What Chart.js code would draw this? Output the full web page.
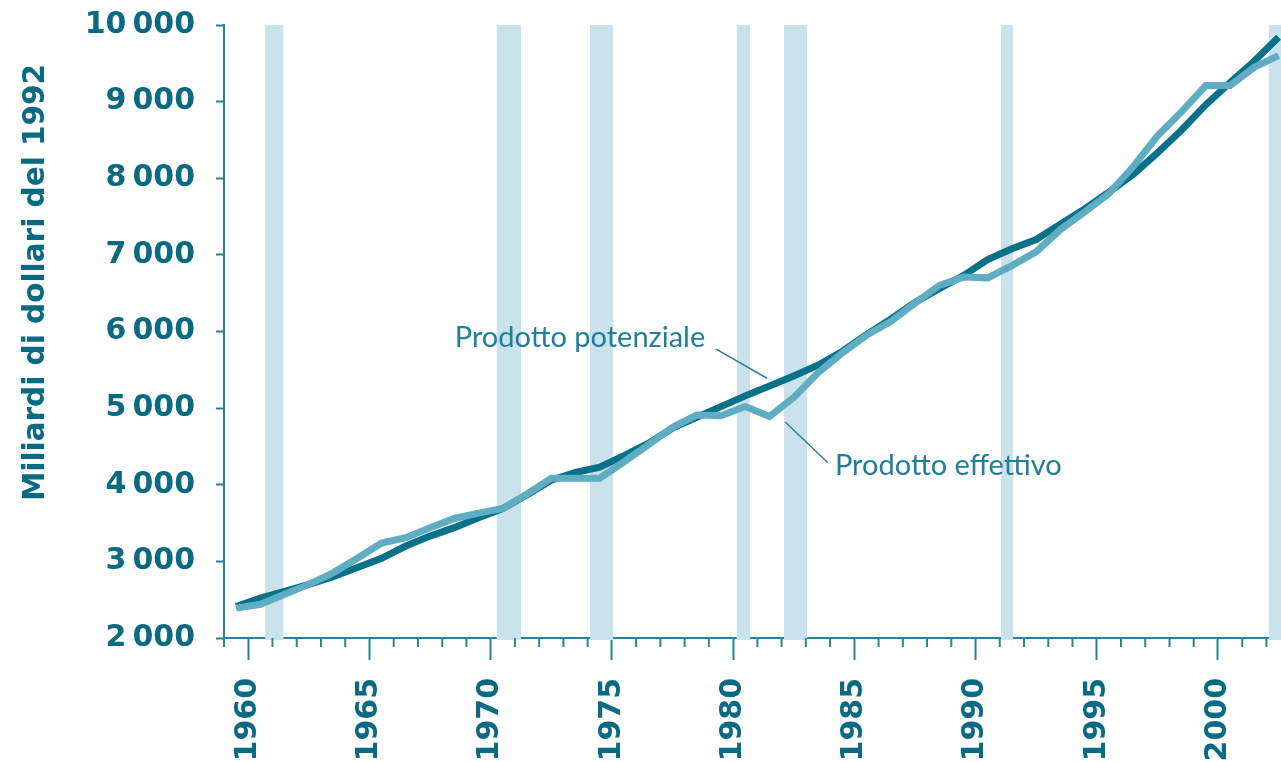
<!DOCTYPE html>
<html>
<head>
<meta charset="utf-8">
<script src="https://cdn.jsdelivr.net/npm/chart.js@4.4.1/dist/chart.umd.min.js"></script>
<style>
html, body { margin: 0; padding: 0; background: #fff; }
#wrap { width: 1281px; height: 762px; }
</style>
</head>
<body>
<div id="wrap"><canvas id="gdpChart"></canvas></div>
<script>
// anni (metà anno) e valori, miliardi di dollari del 1992
var years = [1959.5, 1960.5, 1961.5, 1962.5, 1963.5, 1964.5, 1965.5, 1966.5, 1967.5, 1968.5,
	1969.5, 1970.5, 1971.5, 1972.5, 1973.5, 1974.5, 1975.5, 1976.5, 1977.5, 1978.5,
	1979.5, 1980.5, 1981.5, 1982.5, 1983.5, 1984.5, 1985.5, 1986.5, 1987.5, 1988.5,
	1989.5, 1990.5, 1991.5, 1992.5, 1993.5, 1994.5, 1995.5, 1996.5, 1997.5, 1998.5,
	1999.5, 2000.5, 2001.5, 2002.5];

var potenziale = [2410, 2520, 2610, 2700, 2800, 2920, 3040, 3200, 3330, 3440,
	3570, 3690, 3870, 4060, 4160, 4230, 4380, 4540, 4740, 4880,
	5020, 5160, 5290, 5420, 5560, 5740, 5960, 6160, 6380, 6560,
	6730, 6940, 7080, 7200, 7400, 7600, 7820, 8050, 8330, 8630,
	8960, 9250, 9530, 9840];

var effettivo = [2390, 2440, 2570, 2700, 2850, 3040, 3240, 3310, 3440, 3560,
	3630, 3690, 3880, 4085, 4085, 4085, 4300, 4520, 4750, 4910,
	4900, 5020, 4890, 5140, 5460, 5720, 5950, 6130, 6370, 6600,
	6710, 6700, 6860, 7040, 7330, 7560, 7800, 8150, 8550, 8870,
	9210, 9210, 9450, 9600];

// recessioni (bande verticali)
var recessioni = [[1960.7, 1961.45], [1970.25, 1971.25], [1974.1, 1975.05], [1980.15, 1980.7],
	[1982.1, 1983.05], [1991.05, 1991.55], [2002.1, 2003]];

var yTicks = [2000, 3000, 4000, 5000, 6000, 7000, 8000, 9000, 10000];
var xTickYears = [1960, 1965, 1970, 1975, 1980, 1985, 1990, 1995, 2000];

var darkTeal = '#08718a';
var lightTeal = '#5eadc3';
var bandColor = '#c9e2ec';
var axisColor = '#2a8199';
var textColor = '#0b6a83';

function toPoints(vals) {
	return years.map(function(yr, i) { return { x: yr, y: vals[i] }; });
}

function fmt(v) {
	return String(v).replace(/\B(?=(\d{3})+(?!\d))/g, '\u2009');
}

var bandsPlugin = {
	id: 'bands',
	beforeDatasetsDraw: function(chart) {
		var ctx = chart.ctx, area = chart.chartArea, x = chart.scales.x;
		ctx.save();
		ctx.fillStyle = bandColor;
		recessioni.forEach(function(r) {
			var x1 = Math.max(x.getPixelForValue(r[0]), area.left);
			var x2 = Math.min(x.getPixelForValue(r[1]), area.right);
			ctx.fillRect(x1, area.top, x2 - x1, area.bottom - area.top + 2);
		});
		ctx.restore();
	}
};

var extrasPlugin = {
	id: 'extras',
	afterDraw: function(chart) {
		var ctx = chart.ctx, area = chart.chartArea, x = chart.scales.x, y = chart.scales.y;
		ctx.save();
		// tacche minori, una per anno
		ctx.strokeStyle = axisColor;
		ctx.lineWidth = 2;
		for (var yr = Math.ceil(x.min); yr <= Math.floor(x.max); yr++) {
			if (yr % 5 === 0) continue;
			var px = x.getPixelForValue(yr);
			ctx.beginPath();
			ctx.moveTo(px, area.bottom);
			ctx.lineTo(px, area.bottom + 9);
			ctx.stroke();
		}
		// etichette delle serie con linee guida
		ctx.strokeStyle = '#2e7f94';
		ctx.lineWidth = 1.5;
		ctx.beginPath();
		ctx.moveTo(x.getPixelForValue(1979.3), y.getPixelForValue(5770));
		ctx.lineTo(x.getPixelForValue(1981.4), y.getPixelForValue(5390));
		ctx.moveTo(x.getPixelForValue(1982.15), y.getPixelForValue(4820));
		ctx.lineTo(x.getPixelForValue(1983.9), y.getPixelForValue(4290));
		ctx.stroke();
		ctx.fillStyle = '#1f7f99';
		ctx.font = '29px Lato';
		ctx.textBaseline = 'middle';
		ctx.textAlign = 'right';
		ctx.fillText('Prodotto potenziale', x.getPixelForValue(1978.85), y.getPixelForValue(5920));
		ctx.textAlign = 'left';
		ctx.fillText('Prodotto effettivo', x.getPixelForValue(1984.2), y.getPixelForValue(4250));
		// titolo asse y
		ctx.fillStyle = textColor;
		ctx.font = 'bold 29.5px "DejaVu Sans"';
		ctx.textAlign = 'center';
		ctx.translate(36, area.top + (area.bottom - area.top) * 0.42);
		ctx.rotate(-Math.PI / 2);
		ctx.fillText('Miliardi di dollari del 1992', 0, 0);
		ctx.restore();
	}
};

var ctx = document.getElementById('gdpChart');
var gdpChart = new Chart(ctx, {
	type: 'line',
	data: {
		datasets: [{
			label: 'Prodotto potenziale',
			data: toPoints(potenziale),
			borderColor: darkTeal,
			borderWidth: 7,
			pointRadius: 0,
			tension: 0,
			order: 2
		}, {
			label: 'Prodotto effettivo',
			data: toPoints(effettivo),
			borderColor: lightTeal,
			borderWidth: 7,
			pointRadius: 0,
			tension: 0,
			order: 1
		}]
	},
	options: {
		responsive: true,
		maintainAspectRatio: false,
		animation: false,
		events: [],
		layout: { padding: { left: 74, top: 25, right: 0, bottom: 0 } },
		plugins: { legend: { display: false }, tooltip: { enabled: false } },
		scales: {
			x: {
				type: 'linear',
				min: 1959,
				max: 2002.6,
				afterBuildTicks: function(scale) {
					scale.ticks = xTickYears.map(function(v) { return { value: v }; });
				},
				afterFit: function(scale) {
					scale.height = 124;
					scale.paddingLeft = 0;
					scale.paddingRight = 0;
				},
				border: { color: axisColor, width: 2 },
				grid: { drawOnChartArea: false, tickLength: 22, tickColor: axisColor, tickWidth: 2 },
				ticks: {
					autoSkip: false,
					minRotation: 90,
					maxRotation: 90,
					padding: 18,
					color: textColor,
					font: { family: 'DejaVu Sans', size: 30, weight: 'bold' },
					callback: function(v) { return String(v); }
				}
			},
			y: {
				min: 2000,
				max: 10000,
				afterBuildTicks: function(scale) {
					scale.ticks = yTicks.map(function(v) { return { value: v }; });
				},
				afterFit: function(scale) {
					scale.width = 150;
					scale.paddingTop = 0;
					scale.paddingBottom = 0;
				},
				border: { color: axisColor, width: 2 },
				grid: { drawOnChartArea: false, tickLength: 8, tickColor: axisColor, tickWidth: 2 },
				ticks: {
					padding: 21,
					color: textColor,
					font: { family: 'DejaVu Sans', size: 30, weight: 'bold' },
					callback: function(v) { return fmt(v); }
				}
			}
		}
	},
	plugins: [bandsPlugin, extrasPlugin]
});
</script>
</body>
</html>
